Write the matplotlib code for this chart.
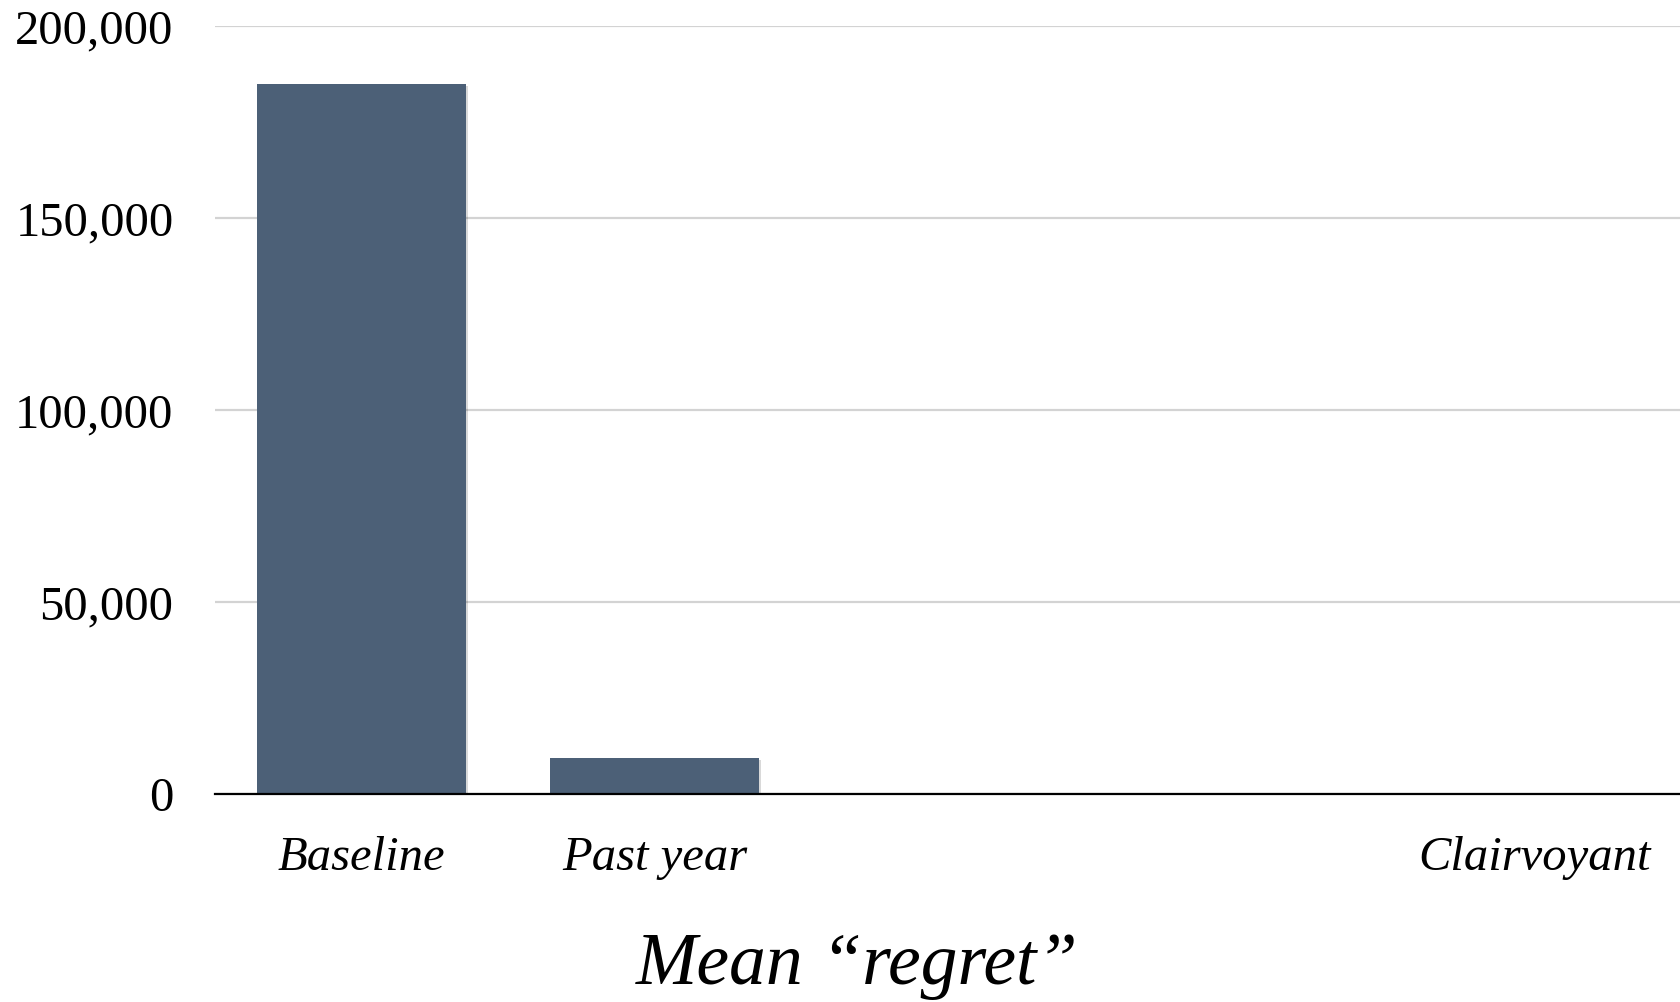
"""mean_regret.py
    Bar chart of mean regret per strategy.
"""

import matplotlib
matplotlib.use('Agg')
import matplotlib.pyplot as plt
import matplotlib.patheffects as pe
from matplotlib.ticker import FuncFormatter

categories = ['Baseline', 'Past year', '', '', 'Clairvoyant']
mean_regret = [185000, 9500, 0, 0, 0]
y_ticks = [0, 50000, 100000, 150000, 200000]

BAR_COLOR = '#4c6077'
GRID_COLOR = '#d3d3d3'
SERIF = ['Liberation Serif', 'DejaVu Serif']


def plot_regret(cats, values):
    fig = plt.figure(figsize=(16.81, 10.02), dpi=100)
    ax = fig.add_axes([0.128, 0.2076, 0.872, 0.7664])

    x = range(len(cats))
    bars = ax.bar(x, values, width=0.713, color=BAR_COLOR,
                  linewidth=0, zorder=3)
    for b in bars:
        b.set_path_effects([
            pe.SimplePatchShadow(offset=(1, -2), shadow_rgbFace='#000000', alpha=0.15),
            pe.Normal(),
        ])

    ax.set_xlim(-0.5, len(cats) - 0.5)
    ax.set_ylim(0, 200000)
    ax.set_yticks(y_ticks)
    ax.yaxis.set_major_formatter(FuncFormatter(lambda v, _: f"{int(v):,}"))
    ax.set_xticks(list(x))
    ax.set_xticklabels(cats)

    ax.grid(axis='y', color=GRID_COLOR, linewidth=1.6, zorder=0)
    ax.set_axisbelow(True)
    for s in ['top', 'right', 'left']:
        ax.spines[s].set_visible(False)
    ax.spines['bottom'].set_color('black')
    ax.spines['bottom'].set_linewidth(1.6)
    ax.spines['bottom'].set_zorder(4)

    ax.tick_params(axis='both', length=0)
    ax.tick_params(axis='y', pad=30)
    ax.tick_params(axis='x', pad=30)
    for lab in ax.get_yticklabels():
        lab.set_family(SERIF)
        lab.set_fontsize(35)
    for lab in ax.get_xticklabels():
        lab.set_family(SERIF)
        lab.set_style('italic')
        lab.set_fontsize(35)

    fig.text(0.510, 0.036, 'Mean \u201cregret\u201d', ha='center', va='center',
             family=SERIF, style='italic', fontsize=53)

    fig.savefig('out.png', dpi=100)


if __name__ == '__main__':
    plot_regret(categories, mean_regret)
